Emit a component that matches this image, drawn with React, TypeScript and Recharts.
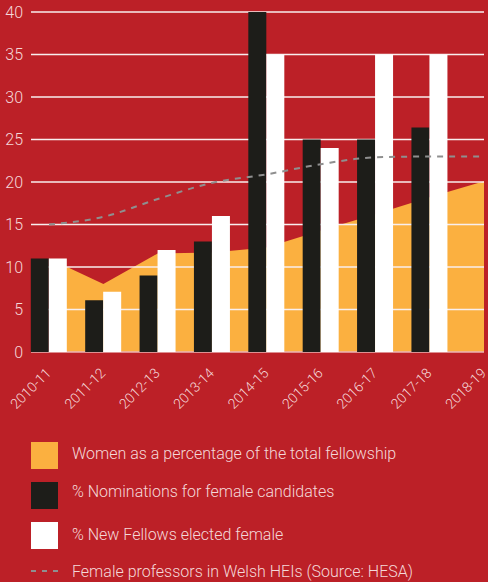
import React from "react";
import { Area, Bar, ComposedChart, Line, ReferenceLine, XAxis, YAxis } from "recharts";

const years = ["2010-11", "2011-12", "2012-13", "2013-14", "2014-15", "2015-16", "2016-17", "2017-18", "2018-19"];
const fellowship = [11, 8, 11.6, 11.7, 12.3, 14.3, 16.2, 18.2, 20.1];
const nominations = [11, 6.1, 9, 13, 40, 25, 25, 26.4, null];
const elected = [11, 7.1, 12, 16, 35, 24, 35, 35, null];
const professors = [15, 15.9, 18, 19.9, 20.9, 22.1, 22.9, 23, 23];
const yTicks = [0, 5, 10, 15, 20, 25, 30, 35, 40];
const legendNames = [
  "Women as a percentage of the total fellowship",
  "% Nominations for female candidates",
  "% New Fellows elected female",
  "Female professors in Welsh HEIs (Source: HESA)"
];

const RED = "#BC2027";
const ORANGE = "#FBB040";
const BLACK = "#1D1D19";
const WHITE = "#FFFFFF";
const GREY = "#8F8F8F";
const TEXT = "#F4D8D9";
const FONT = "Roboto, 'Liberation Sans', Arial, sans-serif";

const data = years.map((year, i) => ({
  idx: i,
  year,
  fellowship: fellowship[i],
  nominations: nominations[i],
  elected: elected[i],
  professors: professors[i]
}));

function YearTick({ x, y, payload }: any) {
  const ax = x + 3;
  const ay = y + 22;
  return (
    <text
      x={ax}
      y={ay}
      transform={`rotate(-45 ${ax} ${ay})`}
      textAnchor="end"
      fill={TEXT}
      fontSize={14}
      fontFamily={FONT}
      fontWeight={300}
    >
      {years[payload.value]}
    </text>
  );
}

export default function App() {
  const swatches = [ORANGE, BLACK, WHITE];
  const textBaselines = [459, 497, 540, 577];
  const squareTops = [442, 482, 522];
  return (
    <div
      style={{
        position: "absolute",
        left: 0,
        top: 0,
        width: 488,
        height: 582,
        background: RED,
        overflow: "hidden"
      }}
    >
      <ComposedChart
        width={488}
        height={420}
        data={data}
        margin={{ top: 12, right: 4, bottom: 0, left: 0 }}
        barGap={0}
        style={{ position: "absolute", left: 0, top: 0 }}
      >
        <XAxis
          dataKey="idx"
          type="number"
          domain={[-0.331, 8]}
          ticks={[0, 1, 2, 3, 4, 5, 6, 7, 8]}
          interval={0}
          axisLine={false}
          tickLine={false}
          tickSize={0}
          tickMargin={0}
          height={68}
          tick={<YearTick />}
        />
        <YAxis
          domain={[0, 40]}
          ticks={yTicks}
          width={31}
          axisLine={false}
          tickLine={false}
          tickSize={0}
          tickMargin={8}
          tick={{ fill: TEXT, fontSize: 16, fontFamily: FONT, fontWeight: 300 }}
        />
        <Area
          type="linear"
          dataKey="fellowship"
          stroke="none"
          fill={ORANGE}
          fillOpacity={1}
          isAnimationActive={false}
        />
        {yTicks.map((t) => (
          <ReferenceLine
            key={t}
            y={t}
            stroke={t === 0 ? "#EBB4B6" : "#F8EEEE"}
            strokeWidth={1.3}
            zIndex={150}
          />
        ))}
        <Bar dataKey="nominations" fill={BLACK} barSize={18} isAnimationActive={false} />
        <Bar dataKey="elected" fill={WHITE} barSize={18} isAnimationActive={false} />
        <Line
          type="monotone"
          dataKey="professors"
          stroke={GREY}
          strokeWidth={2}
          strokeDasharray="6 6"
          dot={false}
          isAnimationActive={false}
        />
      </ComposedChart>
      <svg width={488} height={582} style={{ position: "absolute", left: 0, top: 0 }}>
        {swatches.map((c, i) => (
          <rect key={c} x={31} y={squareTops[i]} width={27} height={27} fill={c} />
        ))}
        <line x1={31} x2={58} y1={571} y2={571} stroke={GREY} strokeWidth={2} strokeDasharray="5 6" />
        {legendNames.map((name, i) => (
          <text
            key={name}
            x={72}
            y={textBaselines[i]}
            fill={TEXT}
            fontSize={16}
            fontFamily={FONT}
            fontWeight={300}
          >
            {name}
          </text>
        ))}
      </svg>
    </div>
  );
}
